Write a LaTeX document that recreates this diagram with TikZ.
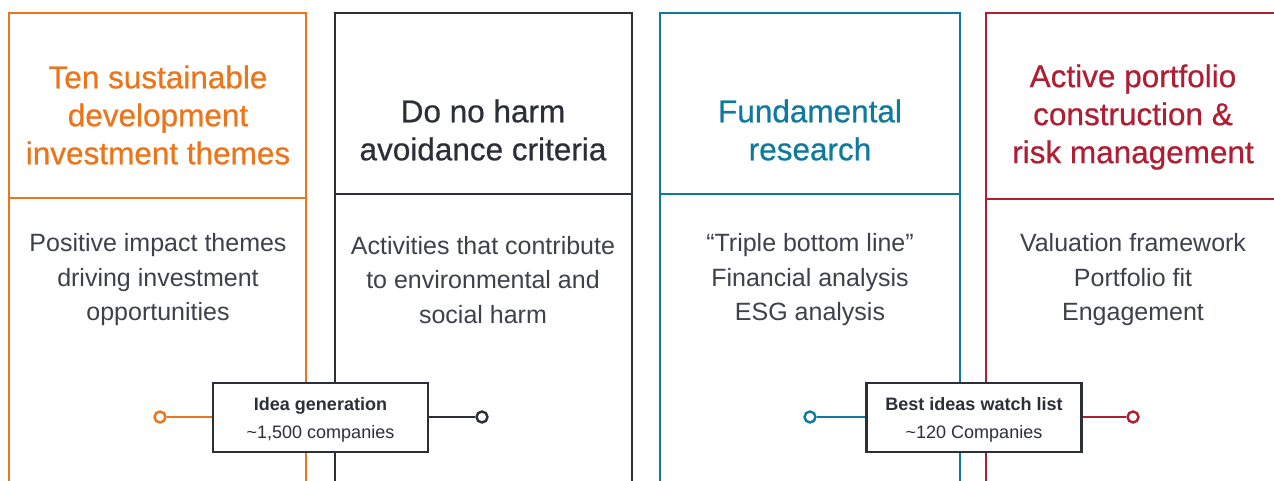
\documentclass[tikz,border=0pt]{standalone}
\usepackage{fontspec}
\setmainfont{Liberation Sans}
\newfontfamily\headfont[FakeBold=0.6]{Liberation Sans}
\definecolor{corange}{RGB}{236,116,26}
\definecolor{cdark}{RGB}{44,46,56}
\definecolor{cteal}{RGB}{14,122,158}
\definecolor{cred}{RGB}{175,30,50}
\definecolor{cbody}{RGB}{62,64,74}
\begin{document}
\begin{tikzpicture}[x=1pt,y=-1pt,
  colframe/.style={line width=2.2pt},
  divider/.style={line width=1.3pt},
  headtext/.style={align=center,font=\headfont\fontsize{31.5}{38}\selectfont,inner sep=0pt},
  bodytext/.style={align=center,text=cbody,font=\fontsize{25}{34.5}\selectfont,inner sep=0pt},
  stagebox/.style={draw=cdark,fill=white,line width=2.2pt,minimum width=215pt,minimum height=69pt,align=center,inner sep=0pt,text=cdark,font=\fontsize{18}{28}\selectfont},
  endpt/.style={circle,draw,fill=white,line width=2.4pt,minimum size=11pt,inner sep=0pt},
  link/.style={line width=2.2pt}]
\useasboundingbox (0,0) rectangle (1274,480);
\clip (0,0) rectangle (1274,480);
% columns
\draw[colframe,corange] (9,481) -- (9,13) -- (306,13) -- (306,481);
\draw[divider,corange] (9,198) -- (306,198);
\draw[colframe,cdark] (335,481) -- (335,13) -- (632,13) -- (632,481);
\draw[divider,cdark] (335,194) -- (632,194);
\draw[colframe,cteal] (660,481) -- (660,13) -- (960,13) -- (960,481);
\draw[divider,cteal] (660,194) -- (960,194);
\draw[colframe,cred] (986,481) -- (986,13) -- (1290,13) -- (1290,481);
\draw[divider,cred] (986,199) -- (1290,199);
% headings
\node[headtext,text=corange] (h1) at (158,115) {Ten sustainable\\development\\investment themes};
\node[headtext,text=cdark] (h2) at (483,130) {Do no harm\\avoidance criteria};
\node[headtext,text=cteal] (h3) at (810,130) {Fundamental\\research};
\node[headtext,text=cred] (h4) at (1133,117) {Active portfolio\\construction \&\\risk management};
% body texts
\node[bodytext] (b1) at (158,280) {Positive impact themes\\driving investment\\opportunities};
\node[bodytext] (b2) at (483,280) {Activities that contribute\\to environmental and\\social harm};
\node[bodytext] (b3) at (810,280) {“Triple bottom line”\\Financial analysis\\ESG analysis};
\node[bodytext] (b4) at (1133,280) {Valuation framework\\Portfolio fit\\Engagement};
% stage boxes
\node[stagebox] (idea) at (320.5,417.5) {\rule{0pt}{17pt}\textbf{Idea generation}\\\textasciitilde 1,500 companies};
\node[stagebox] (best) at (974,417.5) {\rule{0pt}{17pt}\textbf{Best ideas watch list}\\\textasciitilde 120 Companies};
% endpoints
\node[endpt,draw=corange] (e1) at (160,417) {};
\node[endpt,draw=cdark] (e2) at (482,417) {};
\node[endpt,draw=cteal] (e3) at (810,417) {};
\node[endpt,draw=cred] (e4) at (1133,417) {};
\draw[link,corange] (e1) -- (idea.west |- e1);
\draw[link,cdark] (idea.east |- e2) -- (e2);
\draw[link,cteal] (e3) -- (best.west |- e3);
\draw[link,cred] (best.east |- e4) -- (e4);
\end{tikzpicture}
\end{document}
